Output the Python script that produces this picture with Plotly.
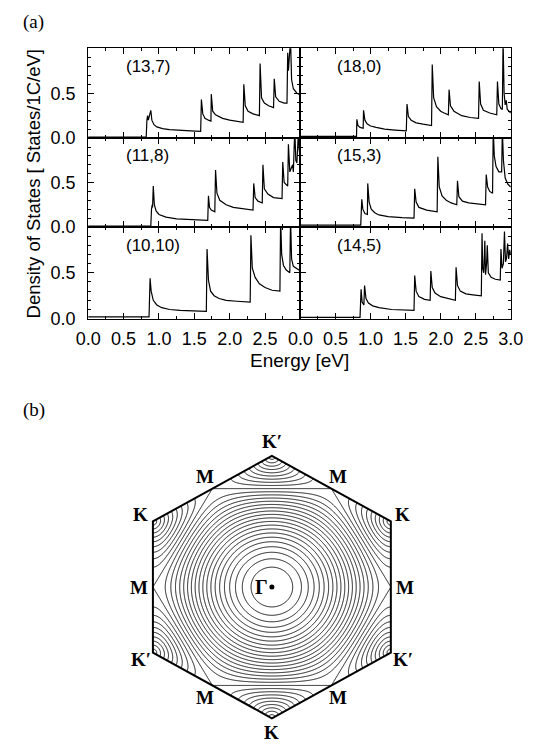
import numpy as np
import plotly.graph_objects as go

W, H = 539, 747

# ------------------------------------------------------------------
# (a) Density of states data (energy in eV, DOS)
# ------------------------------------------------------------------
panel_labels = ["(13,7)", "(18,0)", "(11,8)", "(15,3)", "(10,10)", "(14,5)"]

e_13_7 = [0.0, 0.82, 0.83, 0.84, 0.85, 0.865, 0.885, 0.90, 0.93, 0.97, 1.05, 1.15, 1.30, 1.45, 1.59,
          1.60, 1.62, 1.65, 1.70, 1.735, 1.74, 1.76, 1.80, 1.90, 2.00, 2.10, 2.19,
          2.20, 2.22, 2.26, 2.33, 2.42, 2.43, 2.45, 2.49, 2.55, 2.62, 2.63, 2.65, 2.70, 2.77, 2.81,
          2.82, 2.83, 2.845, 2.86, 2.875, 2.90, 2.95, 3.0]
d_13_7 = [0.01, 0.01, 0.20, 0.25, 0.20, 0.26, 0.31, 0.20, 0.15, 0.125, 0.105, 0.095, 0.085, 0.08, 0.075,
          0.43, 0.27, 0.22, 0.20, 0.19, 0.49, 0.30, 0.26, 0.22, 0.20, 0.185, 0.175,
          0.60, 0.36, 0.30, 0.27, 0.25, 0.83, 0.45, 0.39, 0.36, 0.34, 0.66, 0.46, 0.41, 0.39, 0.39,
          0.95, 0.75, 1.10, 1.10, 0.65, 0.55, 0.50, 0.48]

e_18_0 = [0.0, 0.80, 0.805, 0.82, 0.85, 0.895, 0.90, 0.92, 0.95, 1.00, 1.08, 1.20, 1.35, 1.51,
          1.52, 1.54, 1.58, 1.65, 1.75, 1.87,
          1.88, 1.90, 1.94, 2.00, 2.05, 2.11,
          2.12, 2.14, 2.19, 2.30, 2.42, 2.54,
          2.55, 2.57, 2.61, 2.70, 2.80,
          2.81, 2.83, 2.86, 2.88, 2.89, 2.905, 2.92, 2.935, 2.95, 3.0]
d_18_0 = [0.02, 0.02, 0.21, 0.14, 0.12, 0.11, 0.31, 0.20, 0.16, 0.135, 0.12, 0.10, 0.09, 0.08,
          0.38, 0.24, 0.20, 0.17, 0.155, 0.14,
          0.82, 0.45, 0.35, 0.30, 0.28, 0.26,
          0.54, 0.36, 0.30, 0.25, 0.23, 0.22,
          0.63, 0.38, 0.31, 0.28, 0.26,
          0.63, 0.38, 0.33, 0.32, 1.10, 0.50, 0.37, 0.42, 0.32, 0.28]

e_11_8 = [0.0, 0.885, 0.895, 0.905, 0.91, 0.92, 0.935, 0.96, 1.00, 1.10, 1.25, 1.45, 1.69,
          1.70, 1.715, 1.74, 1.79, 1.80, 1.82, 1.86, 1.95, 2.05, 2.20, 2.33,
          2.34, 2.36, 2.40, 2.46, 2.47, 2.49, 2.54, 2.62, 2.74,
          2.75, 2.77, 2.80, 2.82, 2.83, 2.85, 2.87, 2.89, 2.90, 2.92, 2.935, 2.95, 2.97, 2.985, 3.0]
d_11_8 = [0.01, 0.01, 0.20, 0.25, 0.22, 0.46, 0.25, 0.18, 0.14, 0.11, 0.09, 0.08, 0.075,
          0.35, 0.22, 0.19, 0.17, 0.64, 0.38, 0.30, 0.25, 0.22, 0.20, 0.19,
          0.49, 0.33, 0.29, 0.27, 0.70, 0.43, 0.37, 0.33, 0.32,
          0.73, 0.50, 0.47, 0.46, 0.93, 0.62, 0.66, 0.70, 0.62, 1.10, 0.75, 0.72, 1.05, 0.85, 0.90]

e_15_3 = [0.0, 0.86, 0.875, 0.89, 0.92, 0.955, 0.96, 0.98, 1.01, 1.06, 1.12, 1.25, 1.45, 1.62,
          1.63, 1.65, 1.69, 1.80, 1.95,
          1.96, 1.98, 2.02, 2.08, 2.15, 2.23,
          2.24, 2.26, 2.31, 2.40, 2.50, 2.64,
          2.65, 2.67, 2.70, 2.74, 2.75, 2.765, 2.79, 2.83, 2.87, 2.88, 2.895, 2.92, 2.96, 3.0]
d_15_3 = [0.02, 0.02, 0.31, 0.20, 0.15, 0.14, 0.49, 0.28, 0.20, 0.16, 0.135, 0.115, 0.105, 0.10,
          0.43, 0.28, 0.22, 0.19, 0.17,
          0.79, 0.45, 0.35, 0.30, 0.27, 0.25,
          0.52, 0.34, 0.29, 0.27, 0.26, 0.25,
          0.59, 0.45, 0.40, 0.38, 1.10, 0.80, 0.68, 0.62, 0.62, 1.10, 0.75, 0.55, 0.48, 0.45]

e_10_10 = [0.0, 0.86, 0.875, 0.89, 0.92, 0.97, 1.04, 1.15, 1.30, 1.50, 1.67,
           1.68, 1.70, 1.73, 1.78, 1.85, 1.95, 2.10, 2.29,
           2.30, 2.32, 2.36, 2.42, 2.50, 2.60, 2.71,
           2.72, 2.735, 2.76, 2.80, 2.85, 2.86, 2.875, 2.90, 2.95, 3.0]
d_10_10 = [0.02, 0.02, 0.44, 0.30, 0.20, 0.15, 0.12, 0.10, 0.09, 0.085, 0.08,
           0.76, 0.42, 0.30, 0.25, 0.22, 0.20, 0.19, 0.18,
           0.91, 0.55, 0.45, 0.38, 0.34, 0.31, 0.30,
           1.10, 0.70, 0.58, 0.53, 0.50, 1.10, 0.65, 0.57, 0.54, 0.52]

e_14_5 = [0.0, 0.85, 0.865, 0.88, 0.905, 0.915, 0.935, 0.97, 1.03, 1.12, 1.30, 1.45, 1.62,
          1.63, 1.65, 1.69, 1.77, 1.85,
          1.86, 1.88, 1.92, 2.00, 2.10, 2.21,
          2.22, 2.24, 2.28, 2.36, 2.46, 2.58,
          2.59, 2.60, 2.615, 2.63, 2.64, 2.655, 2.665, 2.68, 2.72, 2.78, 2.85,
          2.86, 2.875, 2.895, 2.91, 2.925, 2.94, 2.955, 2.97, 2.985, 3.0]
d_14_5 = [0.015, 0.015, 0.32, 0.18, 0.15, 0.36, 0.22, 0.17, 0.14, 0.12, 0.10, 0.095, 0.09,
          0.47, 0.30, 0.24, 0.21, 0.20,
          0.52, 0.34, 0.28, 0.24, 0.22, 0.20,
          0.56, 0.36, 0.30, 0.27, 0.26, 0.25,
          0.93, 0.55, 0.50, 0.85, 0.48, 0.60, 0.80, 0.50, 0.45, 0.43, 0.42,
          0.76, 0.55, 0.60, 0.95, 0.62, 0.66, 0.82, 0.65, 0.75, 0.70]

panel_series = [(e_13_7, d_13_7), (e_18_0, d_18_0), (e_11_8, d_11_8),
                (e_15_3, d_15_3), (e_10_10, d_10_10), (e_14_5, d_14_5)]

x_ticks = [0.0, 0.5, 1.0, 1.5, 2.0, 2.5, 3.0]
x_ticktext_left = ["0.0", "0.5", "1.0", "1.5", "2.0", "2.5", ""]
x_ticktext_right = ["0.0", "0.5", "1.0", "1.5", "2.0", "2.5", "3.0"]
y_ticks = [0.0, 0.5]
y_ticktext = ["0.0", "0.5"]

# ------------------------------------------------------------------
# (b) graphene pi-band energy contours in the Brillouin zone
# ------------------------------------------------------------------
contour_start, contour_end, contour_step = 0.1, 2.9, 0.1
vertex_angles = [90, 30, -30, -90, -150, 150]
vertex_labels = ["K\u2032", "K", "K\u2032", "K", "K\u2032", "K"]
edge_angles = [60, 0, -60, -120, 180, 120]
edge_labels = ["M", "M", "M", "M", "M", "M"]

# ------------------------------------------------------------------
SANS = "Liberation Sans, Arial, Helvetica, sans-serif"
SERIF = "Liberation Serif, Times New Roman, serif"

fig = go.Figure()

# panel geometry (pixels)
col_px = [(79, 302), (302, 523)]
row_px = [(49, 140), (140, 230), (230, 323)]


def px_x(p):
    return p / W


def px_y(p):
    return 1 - p / H


for i, ((e, d), lab) in enumerate(zip(panel_series, panel_labels)):
    r, c = divmod(i, 2)
    n = i + 1
    xa = "x" if n == 1 else f"x{n}"
    ya = "y" if n == 1 else f"y{n}"
    fig.add_trace(go.Scatter(x=e, y=d, mode="lines", line=dict(color="black", width=1.2),
                             xaxis=xa, yaxis=ya, showlegend=False, hoverinfo="skip"))
    bottom = (r == 2)
    xaxis = dict(
        domain=[px_x(col_px[c][0]), px_x(col_px[c][1])],
        anchor=ya, range=[0, 3.0],
        showgrid=False, zeroline=False, showline=True, linecolor="black", linewidth=1,
        mirror="ticks", ticks="inside", ticklen=6, tickcolor="black", tickwidth=1,
        tickvals=x_ticks, ticktext=(x_ticktext_left if c == 0 else x_ticktext_right),
        showticklabels=bottom,
        tickfont=dict(family=SANS, size=18, color="black"),
        minor=dict(ticks="inside", dtick=0.25, tick0=0, ticklen=3, tickcolor="black"),
        ticklabelstandoff=4,
    )
    yaxis = dict(
        domain=[px_y(row_px[r][1]), px_y(row_px[r][0])],
        anchor=xa, range=[0, 1.0],
        showgrid=False, zeroline=False, showline=True, linecolor="black", linewidth=1,
        mirror="ticks", ticks="inside", ticklen=6, tickcolor="black", tickwidth=1,
        tickvals=y_ticks, ticktext=y_ticktext, showticklabels=(c == 0),
        tickfont=dict(family=SANS, size=18, color="black"),
        minor=dict(ticks="inside", dtick=0.1, tick0=0, ticklen=3, tickcolor="black"),
        ticklabelstandoff=8,
    )
    fig.update_layout({("xaxis" if n == 1 else f"xaxis{n}"): xaxis,
                       ("yaxis" if n == 1 else f"yaxis{n}"): yaxis})
    fig.add_annotation(x=0.5, y=0.8, xref=xa, yref=ya, text=lab, showarrow=False,
                       xanchor="left", yanchor="middle",
                       font=dict(family=SANS, size=17, color="black"))

# axis titles and part labels
fig.add_annotation(x=px_x(22), y=px_y(186), xref="paper", yref="paper",
                   text="Density of States [ States/1C/eV]", textangle=-90, showarrow=False,
                   xanchor="center", yanchor="middle",
                   font=dict(family=SANS, size=18.5, color="black"))
fig.add_annotation(x=px_x(301), y=px_y(365), xref="paper", yref="paper",
                   text="Energy [eV]", showarrow=False, xanchor="center", yanchor="middle",
                   font=dict(family=SANS, size=19, color="black"))
fig.add_annotation(x=px_x(22), y=px_y(22), xref="paper", yref="paper", text="(a)",
                   showarrow=False, xanchor="center", yanchor="middle",
                   font=dict(family=SERIF, size=19, color="black"))
fig.add_annotation(x=px_x(22), y=px_y(416), xref="paper", yref="paper", text="(b)",
                   showarrow=False, xanchor="center", yanchor="middle",
                   font=dict(family=SERIF, size=19, color="black"))

# ---- (b) Brillouin zone contour ----
Rk = 4 * np.pi / 3
Rx = Rk * np.sqrt(3) / 2
kx = np.linspace(-Rx, Rx, 401)
ky = np.linspace(-Rk, Rk, 441)
KX, KY = np.meshgrid(kx, ky)
w2 = 1 + 4 * np.cos(np.sqrt(3) * KX / 2) * np.cos(KY / 2) + 4 * np.cos(KY / 2) ** 2
w = np.sqrt(np.clip(w2, 0, None))

fig.add_trace(go.Contour(
    x=kx, y=ky, z=w, xaxis="x7", yaxis="y7",
    contours=dict(start=contour_start, end=contour_end, size=contour_step, coloring="lines"),
    colorscale=[[0, "black"], [1, "black"]], line=dict(width=0.9),
    showscale=False, hoverinfo="skip"))

# hexagon geometry in pixels: centre (272,595), half-width 125, circumradius 133
padx, pady = 0.15, 0.16
cx_px, cy_px = 272, 595
sx = 125 / Rx
sy = 133 / Rk
fig.update_layout(
    xaxis7=dict(domain=[px_x(cx_px - (Rx + padx) * sx), px_x(cx_px + (Rx + padx) * sx)],
                range=[-Rx - padx, Rx + padx], anchor="y7", visible=False),
    yaxis7=dict(domain=[px_y(cy_px + (Rk + pady) * sy), px_y(cy_px - (Rk + pady) * sy)],
                range=[-Rk - pady, Rk + pady], anchor="x7", visible=False),
)

verts = [(Rk * np.cos(np.radians(a)), Rk * np.sin(np.radians(a))) for a in vertex_angles]
hex_path = "M " + " L ".join(f"{x:.5f},{y:.5f}" for x, y in verts) + " Z"
big = 10
mask_path = (f"M {-big},{-big} L {big},{-big} L {big},{big} L {-big},{big} Z " + hex_path)
fig.add_shape(type="path", path=mask_path, xref="x7", yref="y7", fillcolor="white",
              line=dict(width=0), fillrule="evenodd", layer="above")
fig.add_shape(type="path", path=hex_path, xref="x7", yref="y7",
              line=dict(color="black", width=2), layer="above")

# Gamma point
fig.add_trace(go.Scatter(x=[0], y=[0], mode="markers", marker=dict(color="black", size=5),
                         xaxis="x7", yaxis="y7", showlegend=False, hoverinfo="skip"))
fig.add_annotation(x=0, y=0, xref="x7", yref="y7", text="<b>\u0393</b>", showarrow=False,
                   xshift=-10, font=dict(family=SERIF, size=20, color="black"))

off = 14
for a, lab in zip(vertex_angles, vertex_labels):
    x, y = Rk * np.cos(np.radians(a)), Rk * np.sin(np.radians(a))
    fig.add_annotation(x=x, y=y, xref="x7", yref="y7", text=f"<b>{lab}</b>", showarrow=False,
                       xshift=off * np.cos(np.radians(a)), yshift=off * np.sin(np.radians(a)),
                       font=dict(family=SERIF, size=19, color="black"))
for a, lab in zip(edge_angles, edge_labels):
    x, y = Rx * np.cos(np.radians(a)), Rx * np.sin(np.radians(a))
    fig.add_annotation(x=x, y=y, xref="x7", yref="y7", text=f"<b>{lab}</b>", showarrow=False,
                       xshift=off * np.cos(np.radians(a)), yshift=off * np.sin(np.radians(a)),
                       font=dict(family=SERIF, size=19, color="black"))

fig.update_layout(width=W, height=H, margin=dict(l=0, r=0, t=0, b=0),
                  paper_bgcolor="white", plot_bgcolor="white", showlegend=False)

fig.write_html("out.html")
